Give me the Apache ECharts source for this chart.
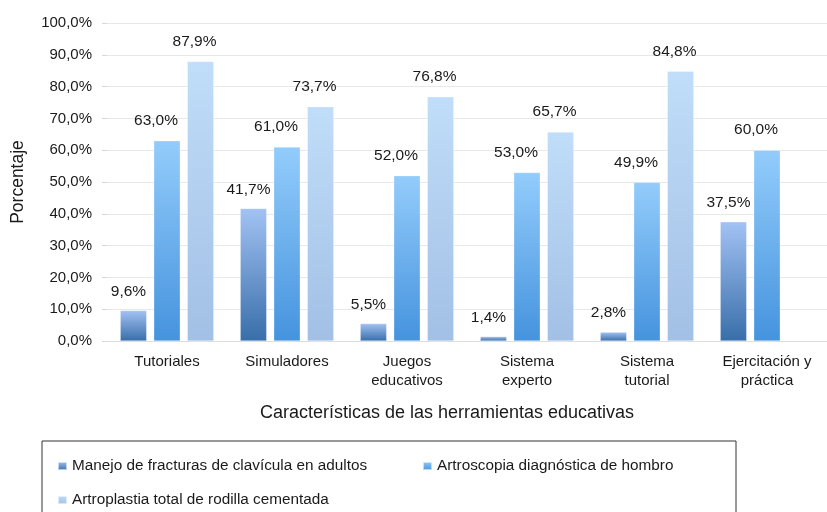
<!DOCTYPE html>
<html>
<head>
<meta charset="utf-8">
<script src="https://cdn.jsdelivr.net/npm/echarts@6/dist/echarts.min.js"></script>
<style>
html,body{margin:0;padding:0;background:#fff;}
#chart{width:827px;height:512px;}
</style>
</head>
<body>
<div id="chart"></div>
<script>
var categories = ['Tutoriales', 'Simuladores', 'Juegos\neducativos', 'Sistema\nexperto', 'Sistema\ntutorial', 'Ejercitación y\npráctica'];
var seriesNames = ['Manejo de fracturas de clavícula en adultos', 'Artroscopia diagnóstica de hombro', 'Artroplastia total de rodilla cementada'];
var clavicula = [9.6, 41.7, 5.5, 1.4, 2.8, 37.5];
var artroscopia = [63.0, 61.0, 52.0, 53.0, 49.9, 60.0];
var artroplastia = [87.9, 73.7, 76.8, 65.7, 84.8, null];
var yTicks = [0, 10, 20, 30, 40, 50, 60, 70, 80, 90, 100];
var xTitle = 'Características de las herramientas educativas';
var yTitle = 'Porcentaje';

var FONT = '"Liberation Sans", Arial, Helvetica, sans-serif';
function pct(v) { return Number(v).toFixed(1).replace('.', ',') + '%'; }
function grad(top, bottom) {
  return new echarts.graphic.LinearGradient(0, 0, 0, 1, [
    { offset: 0, color: top }, { offset: 1, color: bottom }
  ]);
}
function mkSeries(name, data, cTop, cBot, dx, dist) {
  return {
    name: name,
    type: 'bar',
    data: data,
    barWidth: 26.5,
    barGap: '26.6%',
    itemStyle: { color: grad(cTop, cBot), borderColor: 'rgba(255,255,255,0.6)', borderWidth: 0.5 },
    label: {
      show: true,
      position: 'top',
      distance: dist,
      offset: [dx, 0],
      formatter: function (p) { return p.value == null ? '' : pct(p.value); },
      color: '#1a1a1a',
      fontSize: 15.5,
      fontFamily: FONT
    },
    emphasis: { disabled: true }
  };
}

var chart = echarts.init(document.getElementById('chart'), null, { renderer: 'canvas' });
chart.setOption({
  animation: false,
  backgroundColor: '#ffffff',
  textStyle: { fontFamily: FONT },
  grid: { left: 107, top: 23, width: 728, height: 318, containLabel: false },
  xAxis: {
    type: 'category',
    data: categories,
    axisLine: { show: true, lineStyle: { color: '#dddddd', width: 1 } },
    axisTick: { show: false },
    axisLabel: { color: '#1a1a1a', fontSize: 15, fontFamily: FONT, margin: 11, lineHeight: 19, interval: 0 }
  },
  yAxis: {
    type: 'value',
    min: yTicks[0],
    max: yTicks[yTicks.length - 1],
    interval: yTicks[1] - yTicks[0],
    name: yTitle,
    nameLocation: 'middle',
    nameRotate: 90,
    nameGap: 80,
    nameTextStyle: { color: '#1a1a1a', fontSize: 17.5, fontFamily: FONT },
    axisLine: { show: false },
    axisTick: { show: true, length: 5, lineStyle: { color: '#d8d8d8' } },
    axisLabel: { color: '#1a1a1a', fontSize: 15, fontFamily: FONT, margin: 15, formatter: function (v) { return pct(v); } },
    splitLine: { show: true, lineStyle: { color: '#e8e8e8', width: 1 } }
  },
  legend: {
    left: 57,
    top: 456,
    width: 720,
    padding: 0,
    itemWidth: 9,
    itemHeight: 8,
    itemGap: 14,
    icon: 'rect',
    selectedMode: false,
    data: seriesNames,
    textStyle: { color: '#1a1a1a', fontSize: 15.3, fontFamily: FONT, width: 336, lineHeight: 20 }
  },
  graphic: [
    {
      type: 'rect',
      silent: true,
      shape: { x: 42, y: 441, width: 694, height: 90 },
      style: { fill: 'none', stroke: '#333333', lineWidth: 1 }
    },
    {
      type: 'text',
      silent: true,
      x: 447, y: 413,
      style: { text: xTitle, fill: '#1a1a1a', fontSize: 18, fontFamily: FONT, textAlign: 'center', textVerticalAlign: 'middle' }
    }
  ],
  series: [
    mkSeries(seriesNames[0], clavicula, '#a3c2f4', '#386ea9', -5, 11),
    mkSeries(seriesNames[1], artroscopia, '#93ccfb', '#4593de', -11, 12),
    mkSeries(seriesNames[2], artroplastia, '#c0ddf9', '#a2c0e5', -6, 12)
  ]
});
</script>
</body>
</html>
